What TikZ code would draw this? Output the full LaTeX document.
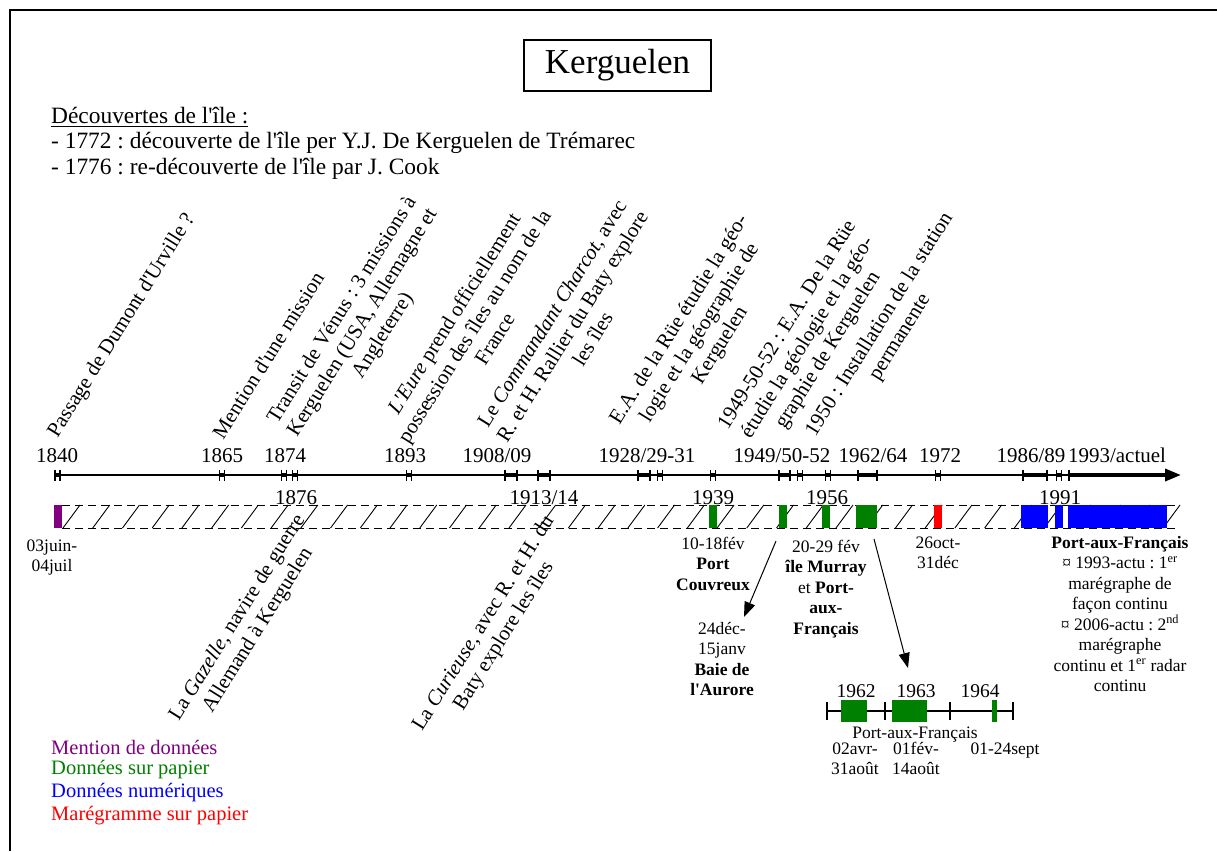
\documentclass[tikz,border=0pt]{standalone}
\usepackage{fontspec}
\setmainfont{Liberation Serif}
\usetikzlibrary{arrows.meta}
\definecolor{cpurple}{RGB}{128,0,128}
\definecolor{cgreen}{RGB}{0,128,0}
\definecolor{cblue}{RGB}{0,0,255}
\definecolor{cred}{RGB}{255,0,0}
\newcommand{\fsz}[2]{\fontsize{#1}{#2}\selectfont}
\newcommand{\ap}{\textquotesingle}
\newcommand{\tlspan}[2]{%
  \draw[line width=3.5pt] (#1,-475) -- (#2,-475);
  \draw[line width=1.8pt] (#1,-469.5) -- (#1,-480.5) (#2,-469.5) -- (#2,-480.5);}
\newcommand{\tltick}[1]{\tlspan{#1-2.5}{#1+2.5}}
\frenchspacing
\begin{document}
\begin{tikzpicture}[x=1pt,y=1pt,
  yearlbl/.style={font=\fsz{21}{24}, inner sep=0pt, anchor=base},
  rotlbl/.style={font=\fsz{21}{24}, align=center, rotate=58, inner sep=0pt},
  smalllbl/.style={font=\fsz{17.5}{20.5}, align=center, inner sep=0pt, anchor=base},
  headlbl/.style={font=\fsz{23.4}{26}, inner sep=0pt, anchor=west},
  legendlbl/.style={font=\fsz{20.5}{23}, inner sep=0pt, anchor=west},
  bandline/.style={line width=1pt, dash pattern=on 8pt off 5pt},
  hatchline/.style={line width=0.9pt},
  pointer/.style={line width=1pt, -{Triangle[length=15pt,width=11pt]}}
]
\useasboundingbox (0,0) rectangle (1217,-851);
\fill[white] (0,0) rectangle (1217,-851);
\draw[line width=2pt] (10,-851) -- (10,-10) -- (1217,-10);

% title and header
\node[draw, line width=1.2pt, minimum width=187pt, minimum height=51pt, inner sep=0pt, font=\fsz{35}{40}] (title) at (617.5,-65.5) {Kerguelen};
\node[headlbl] (dech) at (51,-117) {\underline{Découvertes de l\ap île :}};
\node[headlbl] (d1) at (51,-143) {- 1772 : découverte de l\ap île per Y.J. De Kerguelen de Trémarec};
\node[headlbl] (d2) at (51,-169) {- 1776 : re-découverte de l\ap île par J. Cook};

% main timeline
\coordinate (tlstart) at (60,-475);
\coordinate (tlmid) at (1069,-475);
\coordinate (tlend) at (1181,-475);
\draw[line width=1.2pt] (tlstart) -- (tlmid);
\draw[line width=3.5pt, -{Triangle[length=16pt,width=12pt]}] (tlmid) -- (tlend);
\draw[line width=1.8pt] (1069,-469.5) -- (1069,-480.5);
\tltick{57.5}
\tltick{222}
\tltick{284}
\tltick{295}
\tltick{409}
\tlspan{505}{517}
\tlspan{538}{550}
\tlspan{638}{650}
\tltick{660}
\tltick{713}
\tlspan{779}{790}
\tltick{800}
\tltick{828}
\tlspan{858}{877}
\tltick{938}
\tlspan{1023}{1047}
\tltick{1059}

% year labels above
\node[yearlbl] (y1840) at (57,-462) {1840};
\node[yearlbl] (y1865) at (222,-462) {1865};
\node[yearlbl] (y1874) at (285,-462) {1874};
\node[yearlbl] (y1893) at (405,-462) {1893};
\node[yearlbl] (y1908) at (497,-462) {1908/09};
\node[yearlbl] (y1928) at (647,-462) {1928/29-31};
\node[yearlbl] (y1949) at (782,-462) {1949/50-52};
\node[yearlbl] (y1962) at (873,-462) {1962/64};
\node[yearlbl] (y1972) at (940,-462) {1972};
\node[yearlbl] (y1986) at (1031,-462) {1986/89};
\node[yearlbl] (y1993) at (1117,-462) {1993/actuel};
% year labels below
\node[yearlbl] (y1876) at (296,-504) {1876};
\node[yearlbl] (y1913) at (544,-504) {1913/14};
\node[yearlbl] (y1939) at (713,-504) {1939};
\node[yearlbl] (y1956) at (827,-504) {1956};
\node[yearlbl] (y1991) at (1060,-504) {1991};

% band
\draw[bandline] (62,-505) -- (1178,-505);
\draw[bandline] (62,-528) -- (1178,-528);
\foreach \i in {0,...,37} \draw[hatchline] ({63+29.73*\i},-528) -- ({80+29.73*\i},-505);
\fill[cpurple] (54,-505) rectangle (62,-528);
\fill[cgreen] (709,-505) rectangle (717,-528);
\fill[cgreen] (779,-505) rectangle (787,-528);
\fill[cgreen] (822,-505) rectangle (830,-528);
\fill[cgreen] (856,-505) rectangle (877,-528);
\fill[cred] (934,-505) rectangle (942,-528);
\fill[cblue] (1021,-505) rectangle (1048,-528);
\fill[cblue] (1055,-505) rectangle (1063,-528);
\fill[cblue] (1068,-505) rectangle (1167,-528);

% rotated labels above
\node[rotlbl] (l1) at (122,-326) {Passage de Dumont d\ap Urville ?};
\node[rotlbl] (l2) at (268,-355) {Mention d\ap une mission};
\node[rotlbl] (l3) at (363,-323) {Transit de Vénus : 3 missions à\\Kerguelen (USA, Allemagne et\\Angleterre)};
\node[rotlbl] (l4) at (474,-326) {\textit{L\ap Eure} prend officiellement\\possession des îles au nom de la\\France};
\node[rotlbl] (l5) at (572,-326) {Le \textit{Commandant Charcot}, avec\\R. et H. Rallier du Baty explore\\les îles};
\node[rotlbl] (l6) at (700,-333) {E.A. de la Rüe étudie la géo-\\logie et la géographie de\\Kerguelen};
\node[rotlbl] (l7) at (808,-338) {1949-50-52 : E.A. De la Rüe\\étudie la géologie et la géo-\\graphie de Kerguelen};
\node[rotlbl] (l8) at (890,-331) {1950 : Installation de la station\\permanente};
% rotated labels below
\node[rotlbl] (b1) at (248,-624) {La \textit{Gazelle}, navire de guerre\\Allemand à Kerguelen};
\node[rotlbl] (b2) at (494,-630) {La \textit{Curieuse}, avec R. et H. du\\Baty explore les îles};

% texts below band (anchor = baseline of last line)
\node[smalllbl] (t1840) at (52,-571.5) {03juin-\\04juil};
\node[smalllbl] (t1939) at (713,-590) {10-18fév\\\textbf{Port}\\\textbf{Couvreux}};
\node[smalllbl] (t1956) at (826,-634) {20-29 fév\\\textbf{île Murray}\\et \textbf{Port-}\\\textbf{aux-}\\\textbf{Français}};
\node[smalllbl] (t1972) at (938,-568.5) {26oct-\\31déc};
\node[smalllbl] (t1993) at (1120,-691.5) {\textbf{Port-aux-Français}\\¤ 1993-actu : 1\textsuperscript{er}\\marégraphe de\\façon continu\\¤ 2006-actu : 2\textsuperscript{nd}\\marégraphe\\continu et 1\textsuperscript{er} radar\\continu};
\node[smalllbl] (t1950) at (722,-695.5) {24déc-\\15janv\\\textbf{Baie de}\\\textbf{l\ap Aurore}};

% pointers
\coordinate (p1s) at (776,-541);
\coordinate (p1e) at (744,-617);
\coordinate (p2s) at (874,-539);
\coordinate (p2e) at (908,-668);
\draw[pointer] (p1s) -- (p1e);
\draw[pointer] (p2s) -- (p2e);

% detail timeline 1962-64
\coordinate (dstart) at (827,-711);
\coordinate (dend) at (1013,-711);
\draw[line width=1.2pt] (dstart) -- (dend);
\foreach \x in {827,885,950,1013} \draw[line width=1.2pt] (\x,-702) -- (\x,-720);
\fill[cgreen] (841,-700) rectangle (867,-722);
\fill[cgreen] (892,-700) rectangle (927,-722);
\fill[cgreen] (992,-700) rectangle (997,-722);
\node[font=\fsz{19.5}{22}, inner sep=0pt, anchor=base] (d1962) at (856,-697) {1962};
\node[font=\fsz{19.5}{22}, inner sep=0pt, anchor=base] (d1963) at (916,-697) {1963};
\node[font=\fsz{19.5}{22}, inner sep=0pt, anchor=base] (d1964) at (980,-697) {1964};
\node[smalllbl] (dpaf) at (915,-738) {Port-aux-Français};
\node[smalllbl] (dt62) at (855,-774.5) {02avr-\\31août};
\node[smalllbl] (dt63) at (916,-774.5) {01fév-\\14août};
\node[smalllbl] (dt64) at (1005,-754) {01-24sept};

% legend
\node[legendlbl, text=cpurple] (lg1) at (51,-747) {Mention de données};
\node[legendlbl, text=cgreen] (lg2) at (51,-770) {Données sur papier};
\node[legendlbl, text=cblue] (lg3) at (51,-793) {Données numériques};
\node[legendlbl, text=cred] (lg4) at (51,-816) {Marégramme sur papier};
\end{tikzpicture}
\end{document}
